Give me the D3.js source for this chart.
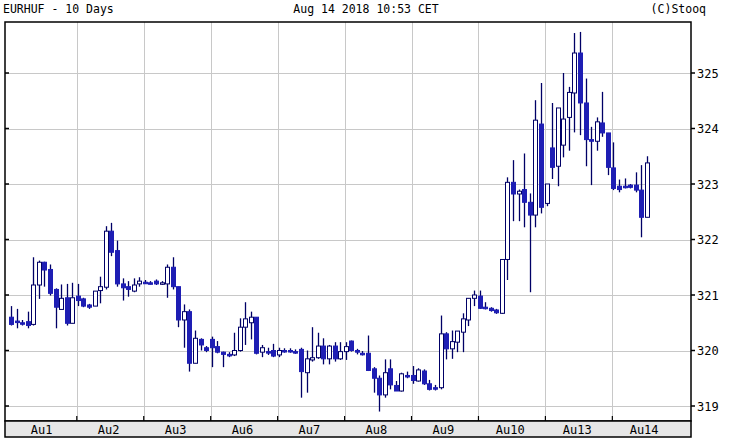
<!DOCTYPE html>
<html><head><meta charset="utf-8">
<script src="https://cdn.jsdelivr.net/npm/d3@7"></script>
<style>body{margin:0;background:#fff}svg{display:block}text{font-family:"DejaVu Sans Mono",monospace}</style>
</head><body><svg id="c" width="730" height="441"></svg>
<script>
const dayLabels=["Au1","Au2","Au3","Au6","Au7","Au8","Au9","Au10","Au13","Au14"];
const yTicks=[319,320,321,322,323,324,325];
const opens=[320.60,320.53,320.50,320.52,320.47,321.18,321.59,321.46,321.10,320.74,320.95,320.49,
320.98,320.93,320.82,320.80,321.08,321.14,322.15,321.80,321.20,321.15,321.07,321.20,
321.23,321.22,321.25,321.20,321.20,321.50,321.15,320.55,320.70,319.77,320.20,320.05,
320.20,320.07,319.97,319.93,319.92,320.00,320.42,320.50,320.60,319.97,319.98,320.00,
319.92,320.00,320.00,319.98,320.02,319.60,319.83,319.87,320.08,319.85,320.08,319.85,
319.98,320.17,320.00,319.95,319.95,319.67,319.50,319.20,319.67,319.37,319.27,319.55,
319.55,319.45,319.63,319.40,319.33,319.33,320.30,320.03,320.15,320.33,320.55,320.94,
320.98,320.78,320.76,320.73,320.67,321.64,323.03,322.82,322.90,322.67,322.44,324.08,
322.65,323.65,323.32,323.70,324.20,324.64,325.36,324.46,323.80,323.77,324.10,323.92,
323.29,322.96,322.96,322.98,322.98,322.89,322.40];
const closes=[320.47,320.53,320.50,320.45,321.18,321.59,321.45,321.03,320.78,320.94,320.49,320.95,
320.90,320.80,320.78,321.07,321.15,322.15,321.77,321.20,321.13,321.10,321.18,321.25,
321.23,321.22,321.20,321.22,321.50,321.15,320.55,320.70,319.77,320.22,320.10,320.00,
320.05,319.97,319.93,319.93,320.00,320.42,320.57,320.60,319.95,320.05,319.98,319.90,
320.00,320.00,320.00,319.98,319.62,319.85,319.87,320.08,319.85,320.08,319.85,319.98,
320.07,320.00,319.97,319.95,319.64,319.50,319.20,319.60,319.38,319.27,319.58,319.55,
319.46,319.65,319.40,319.30,319.33,320.30,320.03,320.16,320.35,320.57,320.94,321.00,
320.76,320.78,320.72,320.68,321.64,323.03,322.82,322.87,322.67,322.44,324.15,322.58,
323.00,323.30,324.37,324.17,324.65,325.36,324.46,323.80,323.77,324.12,323.92,323.30,
322.92,322.90,322.96,322.94,322.89,322.40,323.38];
const highs=[320.80,320.75,320.55,320.70,321.68,321.62,321.60,321.55,321.12,321.19,321.20,321.22,
321.20,320.95,320.84,321.07,321.33,322.24,322.30,321.98,321.30,321.25,321.30,321.32,
321.27,321.25,321.28,321.25,321.55,321.68,321.15,320.83,320.74,320.36,320.22,320.08,
320.25,320.17,319.98,319.97,320.32,320.58,320.87,320.70,320.60,320.10,320.05,320.12,
320.05,320.04,320.04,320.02,320.05,320.00,320.42,320.32,320.22,320.10,320.15,320.15,
320.15,320.18,320.03,319.99,320.27,319.70,319.55,319.84,319.84,319.45,319.60,319.62,
319.72,319.68,319.66,319.47,319.38,320.63,320.33,320.36,320.35,320.67,320.94,321.08,
321.08,320.87,320.78,320.75,321.64,323.12,323.43,322.90,323.55,322.83,324.51,324.82,
323.00,324.46,324.37,325.00,324.75,325.72,325.74,324.90,324.03,324.20,324.66,323.92,
323.75,323.08,323.10,323.00,323.21,323.34,323.50];
const lows=[320.45,320.40,320.45,320.40,320.45,320.93,321.15,320.99,320.40,320.74,320.45,320.49,
320.80,320.78,320.75,320.80,320.85,321.10,321.70,321.15,320.90,320.97,321.05,321.15,
321.20,321.19,321.18,321.18,320.95,321.10,320.42,320.05,319.62,319.77,320.00,319.97,
319.70,319.95,319.70,319.88,319.90,319.98,320.10,320.20,319.93,319.88,319.92,319.88,
319.88,319.96,319.96,319.94,319.15,319.24,319.80,319.85,319.75,319.75,319.80,319.83,
319.83,319.98,319.93,319.91,319.63,319.24,318.90,319.15,319.30,319.27,319.26,319.50,
319.40,319.44,319.38,319.28,319.28,319.30,319.84,319.85,319.97,319.97,320.44,320.80,
320.75,320.74,320.70,320.66,320.66,321.27,322.33,322.33,322.22,321.05,322.22,322.47,
322.60,323.09,322.96,323.48,323.60,323.93,323.88,323.32,322.98,323.60,323.85,323.16,
322.89,322.85,322.92,322.92,322.85,322.04,322.40];

const svg=d3.select("#c");
const L=5,R=691,T=22,B=421;
const x=d3.scaleLinear().domain([-1.07,121.9]).range([L,R]);
const y=d3.scaleLinear().domain([319,325]).range([406,73]);
const g=svg.append("g");
const bounds=d3.range(1,10).map(d=>d*12-0.2);
g.selectAll(".vg").data(bounds).join("line").attr("x1",d=>Math.round(x(d))+0.5).attr("x2",d=>Math.round(x(d))+0.5).attr("y1",T).attr("y2",B).attr("stroke","#c8c8c8");
g.selectAll(".hg").data(yTicks).join("line").attr("x1",L).attr("x2",R).attr("y1",d=>Math.round(y(d))+0.5).attr("y2",d=>Math.round(y(d))+0.5).attr("stroke","#c8c8c8");
g.append("rect").attr("x",L).attr("y",T).attr("width",R-L).attr("height",B-T).attr("fill","none").attr("stroke","#000").attr("stroke-width",1.5);
yTicks.forEach(v=>{
  g.append("line").attr("x1",L).attr("x2",L+4).attr("y1",y(v)).attr("y2",y(v)).attr("stroke","#000").attr("stroke-width",1.5);
  g.append("line").attr("x1",R).attr("x2",R+4).attr("y1",y(v)).attr("y2",y(v)).attr("stroke","#000").attr("stroke-width",1.5);
  g.append("text").attr("x",697).attr("y",y(v)+4.5).attr("font-size",12).attr("fill","#000").text(v);
});
g.append("rect").attr("x",L).attr("y",B).attr("width",R-L).attr("height",16).attr("fill","#e6e6e6").attr("stroke","#000").attr("stroke-width",1.5);
bounds.forEach(b=>g.append("line").attr("x1",x(b)).attr("x2",x(b)).attr("y1",B-5).attr("y2",B).attr("stroke","#000").attr("stroke-width",1.2));
dayLabels.forEach((t,i)=>g.append("text").attr("x",x(i*12+5.5)).attr("y",434).attr("text-anchor","middle").attr("font-size",12).text(t));
svg.append("text").attr("x",3).attr("y",13).attr("font-size",11.5).text("EURHUF - 10 Days");
svg.append("text").attr("x",366).attr("y",13).attr("text-anchor","middle").attr("font-size",11.5).text("Aug 14 2018 10:53 CET");
svg.append("text").attr("x",706).attr("y",13).attr("text-anchor","end").attr("font-size",11.5).text("(C)Stooq");
const data=opens.map((o,i)=>({i,o,c:closes[i],h:highs[i],l:lows[i]}));
const cg=svg.append("g");
cg.selectAll(".w").data(data).join("line").attr("x1",d=>Math.round(x(d.i))+0.5).attr("x2",d=>Math.round(x(d.i))+0.5)
 .attr("y1",d=>y(d.h)).attr("y2",d=>y(d.l)).attr("stroke","#000066").attr("stroke-width",1.3);
cg.selectAll(".b").data(data).join("rect").attr("x",d=>Math.round(x(d.i))-1.5).attr("width",4)
 .attr("y",d=>y(Math.max(d.o,d.c))).attr("height",d=>Math.max(1.5,Math.abs(y(d.o)-y(d.c))))
 .attr("fill",d=>d.c>d.o?"#fff":"#1e1eb4").attr("stroke",d=>d.c>d.o?"#000066":"#1e1eb4").attr("stroke-width",1);
</script></body></html>
